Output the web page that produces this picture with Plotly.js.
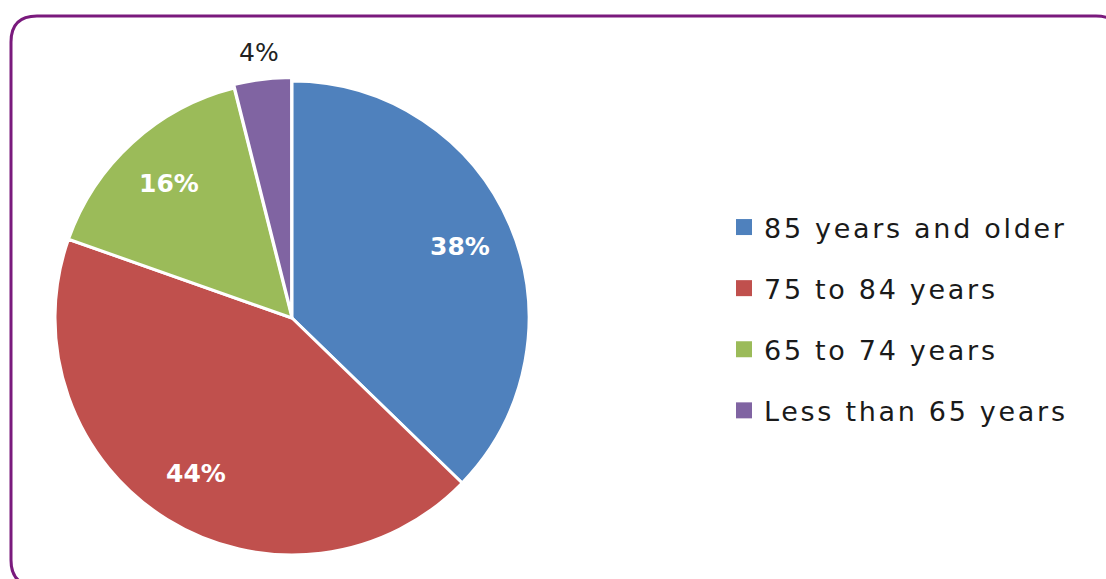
<!DOCTYPE html>
<html>
<head>
<meta charset="utf-8">
<script src="https://cdn.plot.ly/plotly-3.0.1.min.js"></script>
<style>
html,body{margin:0;padding:0;background:#fff;}
#chart{width:1106px;height:579px;}
.legendtext{letter-spacing:2.7px;}
</style>
</head>
<body>
<div id="chart"></div>
<script>
const categories = ["85 years and older", "75 to 84 years", "65 to 74 years", "Less than 65 years"];
const shares = [38, 44, 16, 4];
const colors = ["#4F81BD", "#C0504D", "#9BBB59", "#8064A2"];
const labelText = shares.map(v => v + "%");
const labelInside = [true, true, true, false];

const W = 1106, H = 579;
const px = x => x / W;
const py = y => 1 - y / H;

// pie geometry (pixels)
const CX = 292, CY = 318, RAD = 237, PULL = 0.015;
const RD = RAD * (1 + PULL);

const pie = {
  type: "pie",
  labels: categories,
  values: shares,
  textinfo: "none",
  sort: false,
  direction: "clockwise",
  rotation: 0,
  pull: [0, 0, 0, PULL],
  marker: {colors: colors, line: {color: "#ffffff", width: 3}},
  domain: {x: [px(CX - RD), px(CX + RD)], y: [py(CY + RD), py(CY - RD)]},
  showlegend: false,
  hoverinfo: "label+percent"
};

// data labels placed at each slice's mid-angle
const total = shares.reduce((a, b) => a + b, 0);
let cum = 0;
const annotations = shares.map((v, i) => {
  const mid = (cum + v / 2) / total * 2 * Math.PI;
  cum += v;
  const rr = RAD * (labelInside[i] ? 0.77 : 1.13);
  const x = CX + rr * Math.sin(mid);
  const y = CY - rr * Math.cos(mid);
  return {
    xref: "paper", yref: "paper", x: px(x), y: py(y),
    xanchor: "center", yanchor: "middle", showarrow: false,
    text: labelText[i],
    font: labelInside[i]
      ? {family: "DejaVu Sans", size: 25, color: "#ffffff", weight: "bold"}
      : {family: "DejaVu Sans", size: 25, color: "#222222"}
  };
});

const legendTraces = categories.map((c, i) => ({
  type: "scatter",
  mode: "markers",
  x: [null], y: [null],
  name: c,
  legendgroup: "g" + i,
  marker: {symbol: "square", size: 17, color: colors[i]},
  showlegend: true,
  hoverinfo: "skip"
}));

const r = 26;
const L = px(11), T = py(16), R = px(1122), B = py(586);
const rx = r / W, ry = r / H;
const framePath = `M ${L} ${B + ry} L ${L} ${T - ry} Q ${L} ${T} ${L + rx} ${T} L ${R - rx} ${T} Q ${R} ${T} ${R} ${T - ry} L ${R} ${B + ry} Q ${R} ${B} ${R - rx} ${B} L ${L + rx} ${B} Q ${L} ${B} ${L} ${B + ry} Z`;

const layout = {
  width: W, height: H,
  margin: {l: 0, r: 0, t: 0, b: 0},
  paper_bgcolor: "#ffffff",
  plot_bgcolor: "rgba(0,0,0,0)",
  xaxis: {visible: false, range: [0, 1]},
  yaxis: {visible: false, range: [0, 1]},
  showlegend: true,
  legend: {
    x: px(724), y: py(203), xanchor: "left", yanchor: "top",
    font: {family: "DejaVu Sans", size: 27, color: "#1a1a1a"},
    tracegroupgap: 23,
    bgcolor: "rgba(0,0,0,0)"
  },
  annotations: annotations,
  shapes: [{
    type: "path", xref: "paper", yref: "paper",
    path: framePath,
    line: {color: "#7A1A7D", width: 3},
    fillcolor: "rgba(0,0,0,0)",
    layer: "below"
  }]
};

Plotly.newPlot("chart", [pie].concat(legendTraces), layout, {displayModeBar: false, staticPlot: true});
</script>
</body>
</html>
